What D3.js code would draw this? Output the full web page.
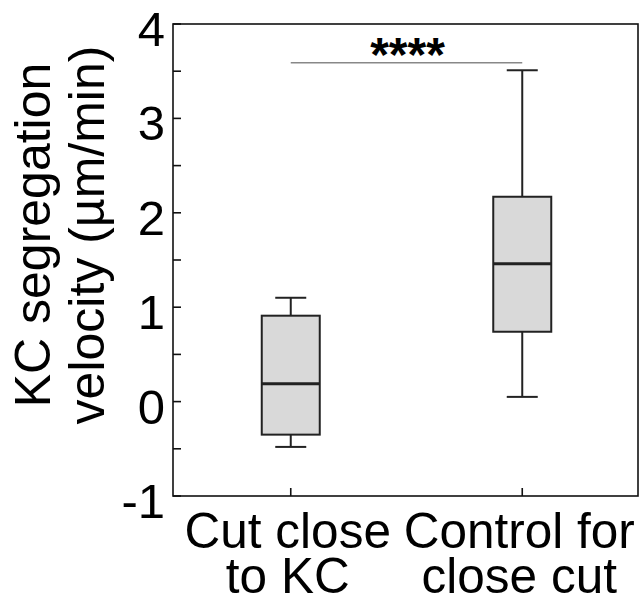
<!DOCTYPE html>
<html>
<head>
<meta charset="utf-8">
<script src="https://cdn.jsdelivr.net/npm/d3@7"></script>
<style>
  html, body { margin: 0; padding: 0; background: #fff; }
  svg { display: block; }
  text { font-family: "Liberation Sans", Arial, Helvetica, sans-serif; fill: #000; }
</style>
</head>
<body>
<svg id="chart" width="642" height="603"></svg>
<script>
// ---- data ----
const categories = ["Cut close|to KC", "Control for|close cut"];
const whiskerLow  = [-0.48, 0.05];
const q1          = [-0.35, 0.74];
const medians     = [0.19, 1.46];
const q3          = [0.91, 2.17];
const whiskerHigh = [1.10, 3.51];
const yTicks      = [-1, 0, 1, 2, 3, 4];
const yMinorTicks = [-0.5, 0.5, 1.5, 2.5, 3.5];
const sigLabel    = "****";
const sigY        = 3.59;
const yLabelLines = ["KC segregation", "velocity (µm/min)"];

// ---- layout ----
const svg = d3.select("#chart");
const L = 173, R = 638, T = 24, B = 496;

const x = d3.scalePoint().domain(categories).range([L + 2, R]).padding(0.5);
const y = d3.scaleLinear().domain([-1, 4]).range([B, T]);

const boxW = 58, capW = 31;

// frame
svg.append("rect")
  .attr("x", L).attr("y", T).attr("width", R - L).attr("height", B - T)
  .attr("fill", "none").attr("stroke", "#111").attr("stroke-width", 1.6);

// y axis ticks (inward)
const yAxis = svg.append("g").attr("transform", `translate(${L},0)`);
yAxis.selectAll("line.maj").data(yTicks).join("line")
  .attr("x1", 0).attr("x2", 8)
  .attr("y1", d => y(d)).attr("y2", d => y(d))
  .attr("stroke", "#111").attr("stroke-width", 1.6);
yAxis.selectAll("line.min").data(yMinorTicks).join("line")
  .attr("x1", 0).attr("x2", 8)
  .attr("y1", d => y(d)).attr("y2", d => y(d))
  .attr("stroke", "#111").attr("stroke-width", 1.6);
yAxis.selectAll("text").data(yTicks).join("text")
  .attr("x", -8).attr("y", d => y(d)).attr("dy", "0.45em")
  .attr("text-anchor", "end").attr("font-size", 49)
  .text(d => d < 0 ? "-" + Math.abs(d) : d);

// x axis ticks (inward) and labels
const xAxis = svg.append("g").attr("transform", `translate(0,${B})`);
xAxis.selectAll("line").data(categories).join("line")
  .attr("x1", d => x(d)).attr("x2", d => x(d))
  .attr("y1", 0).attr("y2", -8)
  .attr("stroke", "#111").attr("stroke-width", 1.6);
const xl = xAxis.selectAll("text").data(categories).join("text")
  .attr("text-anchor", "middle").attr("font-size", 49.5);
xl.each(function(d) {
  const parts = d.split("|");
  d3.select(this).selectAll("tspan").data(parts).join("tspan")
    .attr("x", x(d) - 3).attr("y", (p, i) => 52 + i * 45)
    .text(p => p);
});

// y label
const yl = svg.append("text")
  .attr("transform", `translate(0,235) rotate(-90)`)
  .attr("text-anchor", "middle").attr("font-size", 50);
yl.selectAll("tspan").data(yLabelLines).join("tspan")
  .attr("x", 0).attr("y", (d, i) => 50 + i * 54)
  .text(d => d);

// boxes
const g = svg.append("g");
categories.forEach((c, i) => {
  const cx = x(c);
  // whiskers
  g.append("line").attr("x1", cx).attr("x2", cx)
    .attr("y1", y(q3[i])).attr("y2", y(whiskerHigh[i]))
    .attr("stroke", "#222").attr("stroke-width", 2);
  g.append("line").attr("x1", cx).attr("x2", cx)
    .attr("y1", y(q1[i])).attr("y2", y(whiskerLow[i]))
    .attr("stroke", "#222").attr("stroke-width", 2);
  g.append("line").attr("x1", cx - capW / 2).attr("x2", cx + capW / 2)
    .attr("y1", y(whiskerHigh[i])).attr("y2", y(whiskerHigh[i]))
    .attr("stroke", "#222").attr("stroke-width", 2);
  g.append("line").attr("x1", cx - capW / 2).attr("x2", cx + capW / 2)
    .attr("y1", y(whiskerLow[i])).attr("y2", y(whiskerLow[i]))
    .attr("stroke", "#222").attr("stroke-width", 2);
  // box
  g.append("rect").attr("x", cx - boxW / 2).attr("y", y(q3[i]))
    .attr("width", boxW).attr("height", y(q1[i]) - y(q3[i]))
    .attr("fill", "#d9d9d9").attr("stroke", "#222").attr("stroke-width", 2);
  // median
  g.append("line").attr("x1", cx - boxW / 2).attr("x2", cx + boxW / 2)
    .attr("y1", y(medians[i])).attr("y2", y(medians[i]))
    .attr("stroke", "#222").attr("stroke-width", 3);
});

// significance
svg.append("line")
  .attr("x1", x(categories[0])).attr("x2", x(categories[1]))
  .attr("y1", y(sigY)).attr("y2", y(sigY))
  .attr("stroke", "#888").attr("stroke-width", 1.5);
svg.append("text")
  .attr("x", (x(categories[0]) + x(categories[1])) / 2 + 1)
  .attr("y", y(sigY) + 8)
  .attr("text-anchor", "middle").attr("font-size", 48).attr("font-weight", "bold")
  .text(sigLabel);
</script>
</body>
</html>
